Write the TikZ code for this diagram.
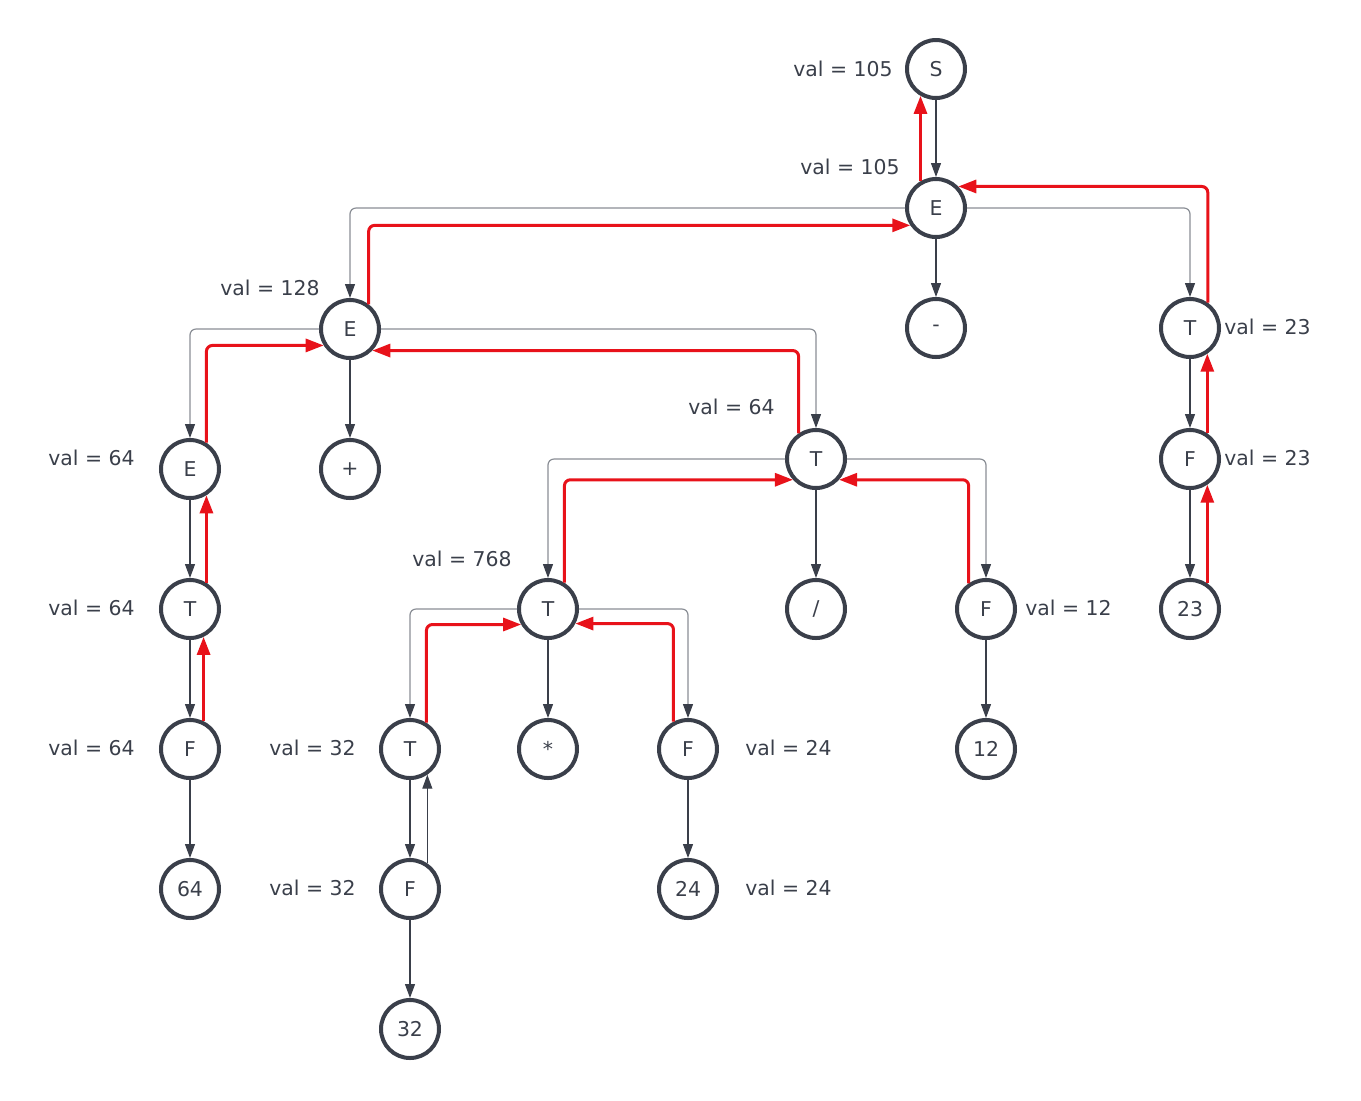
\documentclass[tikz,border=0pt]{standalone}
\usepackage{fontspec}
\setmainfont{DejaVu Sans}
\usetikzlibrary{arrows.meta}
\definecolor{inkGray}{HTML}{3A3F4A}
\definecolor{lineGray}{HTML}{8A8E95}
\definecolor{passRed}{HTML}{E8121A}
\newcommand\widthCirc{29pt}
\newcommand\valFont{\fontsize{10.2}{12}\selectfont}

\begin{document}
\begin{tikzpicture}[x=0.5pt, y=-0.5pt,
    sym/.style={circle, draw=inkGray, line width=2pt, minimum size=\widthCirc,
      inner sep=0pt, text=inkGray, font=\valFont},
    val/.style={text=inkGray, font=\valFont, inner sep=0pt},
    down/.style={draw=inkGray, line width=0.6pt,
      -{Triangle[length=7pt, width=5pt, color=inkGray]}},
    split/.style={down, draw=lineGray, rounded corners=3pt},
    up/.style={draw=passRed, line width=1.5pt, rounded corners=3pt,
      -{Triangle[length=9pt, width=6.5pt]}}]
    \useasboundingbox (0,0) rectangle (1361,1100);

    %% parse tree
    \node[sym] (S) at (936,69) {S};
    \node[sym] (E1) at (936,208) {E};
    \node[sym] (minus) at (936,328) {-};
    \node[sym] (Tr) at (1190,328) {T};
    \node[sym] (Fr) at (1190,459) {F};
    \node[sym] (n23) at (1190,609) {23};
    \node[sym] (E2) at (350,329) {E};
    \node[sym] (plus) at (350,469) {+};
    \node[sym] (E3) at (190,469) {E};
    \node[sym] (T3) at (190,609) {T};
    \node[sym] (F3) at (190,749) {F};
    \node[sym] (n64) at (190,889) {64};
    \node[sym] (T2) at (816,459) {T};
    \node[sym] (div) at (816,609) {/};
    \node[sym] (F2) at (986,609) {F};
    \node[sym] (n12) at (986,749) {12};
    \node[sym] (T4) at (548,609) {T};
    \node[sym] (star) at (548,749) {*};
    \node[sym] (F4) at (688,749) {F};
    \node[sym] (n24) at (688,889) {24};
    \node[sym] (T5) at (410,749) {T};
    \node[sym] (F5) at (410,889) {F};
    \node[sym] (n32) at (410,1029) {32};

    %% attribute values
    \node[val, anchor=east] (vS) at (893,69) {val = 105};
    \node[val, anchor=east] (vE1) at (900,167) {val = 105};
    \node[val, anchor=east] (vE2) at (320,288) {val = 128};
    \node[val, anchor=east] (vT2) at (775,407) {val = 64};
    \node[val, anchor=east] (vE3) at (135,458) {val = 64};
    \node[val, anchor=east] (vT3) at (135,608) {val = 64};
    \node[val, anchor=east] (vF3) at (135,748) {val = 64};
    \node[val, anchor=east] (vT4) at (512,559) {val = 768};
    \node[val, anchor=east] (vT5) at (356,748) {val = 32};
    \node[val, anchor=east] (vF5) at (356,888) {val = 32};
    \node[val, anchor=west] (vF4) at (745,748) {val = 24};
    \node[val, anchor=west] (vn24) at (745,888) {val = 24};
    \node[val, anchor=west] (vF2) at (1025,608) {val = 12};
    \node[val, anchor=west] (vTr) at (1224,327) {val = 23};
    \node[val, anchor=west] (vFr) at (1224,458) {val = 23};

    %% expansion, straight down
    \foreach \a/\b in {S/E1, E1/minus, Tr/Fr, Fr/n23, E2/plus, E3/T3, T3/F3, F3/n64,
      T2/div, F2/n12, T4/star, F4/n24, T5/F5, F5/n32}{
      \draw[down] (\a) -- (\b);
    }
    \draw[down] (F5.56) -- (T5.-56);

    %% expansion, to the sides
    \foreach \a/\b/\c in {E1/E2/west, E1/Tr/east, E2/E3/west, E2/T2/east,
      T2/T4/west, T2/F2/east, T4/T5/west, T4/F4/east}{
      \draw[split] (\a.\c) -| (\b.north);
    }

    %% values passed up
    \foreach \a/\b/\ang in {E1/S/120, T3/E3/58, F3/T3/64, Fr/Tr/56, n23/Fr/56}{
      \draw[up] (\a.\ang) -- (\b.-\ang);
    }
    \draw[up] (E2.53) |- (E1.214);
    \draw[up] (Tr.55) |- (E1.44);
    \draw[up] (E3.58) |- (E2.212);
    \draw[up] (T2.124) |- (E2.-44);
    \draw[up] (T4.58) |- (T2.222);
    \draw[up] (F2.124) |- (T2.-42);
    \draw[up] (T5.58) |- (T4.210);
    \draw[up] (F4.118) |- (T4.-28);
\end{tikzpicture}
\end{document}
